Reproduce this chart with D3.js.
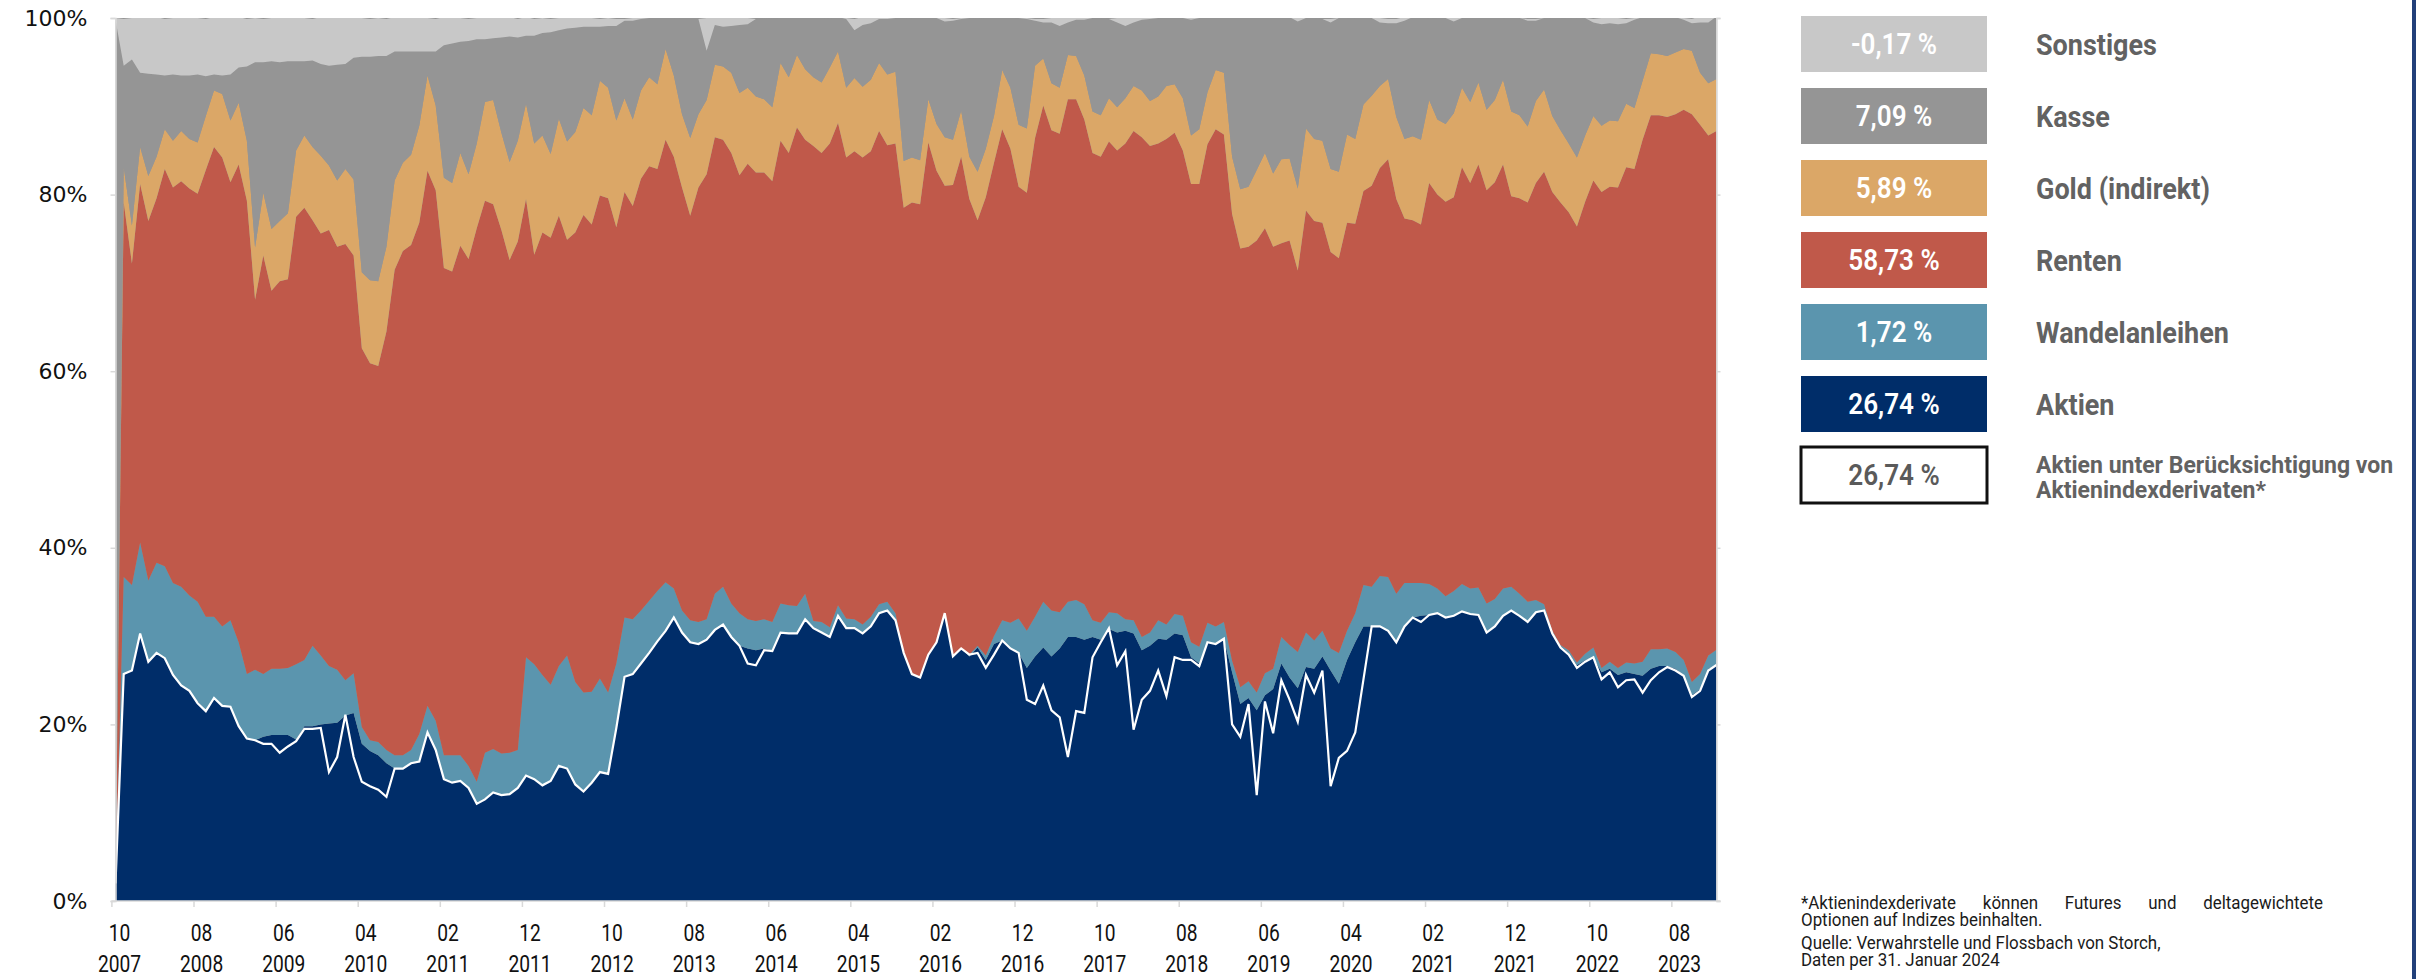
<!DOCTYPE html>
<html>
<head>
<meta charset="utf-8">
<script src="https://cdn.jsdelivr.net/npm/d3@7"></script>
<style>
  body { margin: 0; background: #fff; }
  svg { display: block; }
  text { font-family: Roboto, "Noto Sans", sans-serif; }
</style>
</head>
<body>
<svg id="chart" width="2419" height="979"></svg>
<script>
// monthly shares in %, Oct 2007 .. Jan 2024
const aktien = [
  2.0,25.7,26.1,30.3,27.1,28.1,27.5,25.6,24.4,23.8,
  22.6,21.6,23.0,22.1,22.0,19.8,18.4,18.2,18.6,18.8,
  18.8,18.8,18.3,19.8,19.8,20.0,20.1,20.2,21.0,21.3,
  17.8,17.0,16.5,15.6,15.0,15.0,15.6,15.8,19.1,17.1,
  13.8,13.4,13.6,12.8,11.0,11.5,12.3,12.0,12.1,12.8,
  14.2,13.8,13.1,13.6,15.3,15.0,13.2,12.4,13.4,14.6,
  14.4,19.6,25.4,25.7,26.9,28.1,29.4,30.6,32.1,30.4,
  29.3,29.1,29.6,30.7,31.3,29.9,28.9,28.6,28.4,28.6,
  28.4,30.4,30.3,30.3,31.9,30.9,30.4,29.9,32.3,30.9,
  30.9,30.3,31.1,32.6,32.9,31.8,28.1,25.7,25.3,27.9,
  29.3,32.6,27.7,28.6,27.7,28.7,27.3,29.1,29.5,28.6,
  28.1,26.4,27.7,28.7,27.7,28.6,29.9,29.9,29.6,29.9,
  29.6,30.8,30.4,30.6,30.3,28.4,28.9,29.7,29.6,30.3,
  30.1,27.6,26.9,29.3,29.1,29.7,25.9,22.3,23.0,21.6,
  23.3,24.0,26.9,25.3,24.1,26.5,26.3,27.7,26.1,24.6,
  27.3,29.3,31.1,31.1,31.1,30.6,29.3,31.1,32.1,32.3,
  32.4,32.6,32.1,32.3,32.8,32.5,32.4,30.4,31.1,32.3,
  32.9,32.3,31.6,32.7,32.9,30.4,28.9,28.1,26.7,27.3,
  27.6,25.9,26.3,25.6,25.9,25.7,25.5,26.3,26.6,26.6,
  26.3,25.6,23.3,24.0,26.3,26.74
];
const wandelanleihen = [
  0,11.0,9.7,10.3,9.2,10.2,10.4,10.4,11.2,10.8,
  11.3,10.6,9.2,9.0,9.8,9.5,7.3,8.0,7.1,7.5,
  7.5,7.6,8.5,7.5,9.1,7.8,6.5,6.0,4.0,4.5,
  1.9,1.2,1.5,1.5,1.5,1.5,1.5,3.1,3.0,3.3,
  2.7,3.1,2.9,2.5,2.5,5.3,4.9,4.7,4.7,4.3,
  13.4,13.0,12.5,10.9,11.3,12.8,11.6,11.2,10.3,10.6,
  9.2,7.3,6.7,6.2,6.0,5.9,5.7,5.5,3.3,2.5,
  2.5,2.5,2.3,4.1,4.3,3.8,3.7,3.3,3.3,3.3,
  3.2,3.3,3.2,3.1,2.9,0.8,1.2,1.1,1.2,1.1,
  1.0,1.0,1.1,1.0,1.0,0.8,0,0,0,0,
  0,0,0,0,0.2,0.2,0.5,0.9,2.3,2.9,
  3.9,4.2,4.5,5.2,5.2,4.1,4.0,4.2,4.0,1.9,
  1.9,1.9,2.2,1.3,1.5,1.5,1.5,2.1,1.7,2.2,
  2.2,1.7,1.9,2.2,2.0,1.9,1.3,1.9,1.9,2.0,
  2.5,2.3,3.0,3.7,4.1,3.9,3.2,2.9,2.5,3.5,
  3.3,3.3,4.7,4.5,5.7,6.1,5.5,4.9,3.9,3.7,
  3.5,2.8,2.4,2.8,3.1,2.9,3.1,3.3,3.1,3.1,
  2.7,2.5,2.3,1.4,0.7,0.2,0.1,0.3,0.3,0.7,
  1.1,0.5,0.8,0.8,1.1,1.2,1.6,2.2,1.9,2.0,
  1.9,1.7,1.5,1.7,1.5,1.72
];
const renten = [
  0,42.4,36.4,40.6,40.7,41.3,45.0,44.8,45.9,46.1,
  46.2,50.6,53.2,53.1,49.6,54.1,53.6,41.9,47.4,42.8,
  43.9,44.0,50.7,51.2,48.2,47.8,49.4,47.9,49.4,47.3,
  42.9,42.7,42.6,47.4,55.0,57.1,57.2,57.9,60.6,60.1,
  55.2,54.8,57.7,57.4,62.7,62.5,61.7,59.3,55.8,57.6,
  51.9,46.4,50.1,50.6,51.0,47.1,50.9,54.1,52.9,54.7,
  56.0,49.4,48.2,46.8,48.9,49.2,47.8,50.1,48.9,47.9,
  45.8,49.2,50.4,51.7,50.6,51.0,49.6,51.6,50.8,50.6,
  49.9,52.4,51.2,54.2,51.4,53.8,53.1,54.8,54.6,52.2,
  53.0,52.9,52.7,53.6,51.7,53.2,50.4,53.4,53.6,58.0,
  53.4,48.4,53.4,55.7,51.6,48.2,51.9,53.6,55.6,53.7,
  48.9,49.6,54.2,56.2,54.4,54.2,56.9,56.7,54.9,52.9,
  52.8,53.3,52.4,53.9,55.4,56.6,55.1,54.0,55.0,54.5,
  52.7,51.9,52.4,54.2,56.3,55.2,50.6,49.7,49.2,51.2,
  50.4,47.8,44.6,45.8,43.2,47.8,47.5,46.2,44.9,44.7,
  46.2,44.1,44.6,45.4,46.2,47.3,44.7,41.3,41.1,40.6,
  45.4,44.6,44.7,44.6,47.2,45.9,47.9,46.8,47.2,48.0,
  44.2,44.8,45.2,47.2,49.0,49.7,50.1,49.6,49.4,51.2,
  52.9,53.9,53.8,54.4,56.1,56.0,59.1,60.5,60.5,60.2,
  60.9,62.3,64.3,62.2,58.9,58.73
];
const gold = [
  0,4.0,4.3,4.2,5.1,4.7,4.5,5.3,5.7,5.6,
  5.8,6.1,6.4,7.2,7.0,7.0,6.8,5.9,7.1,7.0,
  6.8,7.5,7.5,8.2,8.3,8.8,7.3,7.5,8.5,8.6,
  8.6,9.4,9.6,9.6,10.1,10.0,10.2,11.0,10.8,9.6,
  10.2,10.0,10.5,9.6,9.6,11.2,11.8,11.0,11.1,11.4,
  10.8,12.6,11.0,9.5,11.0,11.1,11.4,12.1,12.4,13.0,
  12.5,12.1,10.6,9.8,10.0,10.1,9.6,10.3,9.2,8.3,
  8.8,8.3,8.4,8.2,8.3,9.1,9.3,8.6,8.6,8.3,
  8.4,8.8,8.6,8.2,8.0,7.8,8.0,8.6,8.1,7.9,
  8.3,8.0,8.1,7.7,8.0,8.1,5.3,5.1,5.0,4.9,
  5.3,5.5,5.1,5.2,4.8,5.5,5.5,5.3,6.7,6.9,
  7.0,7.3,8.2,5.3,5.3,5.2,5.0,4.9,5.0,4.7,
  4.7,4.9,4.9,5.1,5.1,5.3,5.1,5.3,6.0,5.5,
  5.9,5.5,6.2,5.9,6.7,7.0,6.5,6.7,6.8,8.0,
  8.5,8.3,9.5,9.3,9.3,9.3,9.3,9.3,9.4,9.8,
  10.0,9.6,9.8,10.2,9.3,9.1,9.3,9.0,9.5,9.6,
  9.4,8.5,8.8,9.5,9.0,9.2,9.3,9.1,9.3,9.6,
  9.6,9.4,8.6,9.3,9.3,8.6,8.2,7.8,7.8,7.5,
  7.3,7.5,7.5,7.5,7.2,6.9,6.7,7.0,6.9,6.9,
  7.0,6.9,7.2,5.9,5.9,5.89
];
const kasse = [
  97.8,11.5,18.8,8.4,11.6,9.3,6.1,7.5,6.3,7.2,
  7.7,4.5,1.8,2.1,5.2,4.0,8.4,21.0,14.8,19.0,
  18.0,17.2,10.1,8.4,9.8,10.4,11.3,13.1,11.9,13.8,
  24.4,25.3,25.5,21.6,14.6,12.6,11.7,8.4,2.7,6.1,
  15.0,15.8,12.6,15.1,11.8,7.1,7.0,10.8,14.2,11.7,
  7.7,12.2,11.6,13.8,10.0,12.8,11.8,9.2,10.0,6.1,
  7.0,10.7,8.8,11.2,8.1,6.7,7.5,3.5,6.5,10.8,
  13.5,10.8,5.6,4.5,4.5,5.3,7.7,7.2,8.8,9.2,
  10.0,5.1,6.7,4.2,5.9,6.7,7.3,5.5,3.9,7.8,
  5.4,7.0,6.4,5.0,6.3,6.1,16.2,15.7,16.2,9.2,
  12.0,13.1,13.5,10.4,15.7,17.3,14.8,11.2,6.0,8.0,
  12.0,12.4,5.1,4.1,6.9,7.0,3.7,4.1,6.3,10.6,
  11.0,9.0,9.6,8.2,7.2,8.0,9.3,8.8,7.7,7.5,
  9.1,13.1,12.6,8.5,6.0,6.2,15.7,19.5,19.2,17.2,
  15.3,17.7,16.0,16.0,18.9,12.5,13.7,13.8,16.6,17.4,
  13.2,13.6,9.8,8.8,7.2,6.3,10.6,13.4,13.5,13.8,
  9.2,11.5,12.0,10.4,7.9,9.5,7.3,10.4,9.3,7.0,
  10.5,11.0,12.0,9.1,8.1,11.0,12.6,14.2,15.7,13.3,
  10.6,11.5,11.0,11.0,9.1,10.0,7.2,4.0,4.2,4.3,
  4.0,3.3,3.1,5.7,6.9,7.09
];
const sonstiges = [
  0.2,5.3,4.7,6.2,6.3,6.5,6.4,6.4,6.5,6.5,
  6.4,6.5,6.5,6.5,6.5,5.7,5.4,5.0,4.9,4.9,
  5.0,5.0,4.9,4.9,4.7,5.3,5.4,5.4,5.3,4.5,
  4.4,4.3,4.3,4.2,3.9,3.9,3.8,3.8,3.8,3.7,
  3.2,2.9,2.7,2.5,2.4,2.4,2.3,2.3,2.2,2.1,
  2.1,1.9,1.7,1.5,1.4,1.2,1.1,1.0,1.0,0.9,
  0.9,0.8,0.2,0.3,0.1,0,0,0.1,0,0,
  0,0,3.7,0.9,1.0,0.9,0.9,0.7,0,0,
  0,0,0,0,0,0,0,0,0,0.1,
  1.3,0.9,0.7,0.2,0.1,0,0,0,0,0,
  0,0.4,0.2,0.1,0,0,0,0,0,0,
  0,0.1,0.2,0.4,0.5,0.9,0.5,0.2,0.2,0,
  0,0,0.5,0.9,0.5,0.2,0.1,0,0,0.1,
  0.1,0.2,0.1,0,0,0,0,0,0,0,
  0,0,0,0,0.4,0,0,0,0.4,0,
  0,0,0,0,0.5,0.5,0.5,0.4,0,0,
  0,0,0,0.4,0,0,0,0,0,0,
  0,0,0.2,0.2,0,0,0,0,0,0,
  0.4,0.7,0.7,0.7,0.5,0.2,0,0,0,0,
  0,0.2,0.5,0.7,0.5,-0.17
];
// Aktien unter Berücksichtigung von Aktienindexderivaten (white line)
const aktienDerivate = [
  2.0,25.7,26.1,30.3,27.1,28.1,27.5,25.6,24.4,23.8,
  22.4,21.5,23.0,22.1,22.0,19.8,18.4,18.2,17.8,17.8,
  16.8,17.5,18.1,19.5,19.5,19.6,14.6,16.3,21.1,16.3,
  13.5,13.0,12.6,11.8,15.0,15.0,15.6,15.8,19.1,17.1,
  13.8,13.4,13.6,12.8,11.0,11.5,12.3,12.0,12.1,12.8,
  14.2,13.8,13.1,13.6,15.3,15.0,13.2,12.4,13.4,14.6,
  14.4,19.6,25.4,25.7,26.9,28.1,29.4,30.6,32.1,30.4,
  29.3,29.1,29.6,30.7,31.3,29.9,28.9,26.9,26.7,28.4,
  28.3,30.4,30.3,30.3,31.9,30.9,30.4,29.9,32.3,30.9,
  30.9,30.3,31.1,32.6,32.9,31.8,28.1,25.7,25.3,27.9,
  29.3,32.6,27.7,28.6,27.9,28.1,26.4,27.9,29.5,28.6,
  28.1,22.8,22.3,24.4,21.6,20.8,16.3,21.5,21.3,27.6,
  29.3,30.9,26.7,28.3,19.4,22.8,23.8,26.1,23.2,27.6,
  27.3,27.3,26.6,29.3,29.1,29.7,20.0,18.6,22.3,12.0,
  22.6,19.0,25.0,22.8,20.3,25.6,23.6,26.1,13.0,16.2,
  17.0,19.1,25.1,31.1,31.1,30.6,29.3,31.1,32.1,31.6,
  32.4,32.6,32.1,32.3,32.8,32.5,32.4,30.4,31.1,32.3,
  32.9,32.3,31.6,32.7,32.9,30.3,28.7,27.9,26.4,27.1,
  27.6,25.1,25.9,24.2,25.0,25.1,23.6,25.0,25.9,26.5,
  26.1,25.5,23.1,23.8,26.1,26.74
];

const months = d3.timeMonth.range(new Date(2007, 9, 1), new Date(2024, 1, 1));
const tickMonths = ["10","08","06","04","02","12","10","08","06","04","02","12","10","08","06","04","02","12","10","08"];
const tickYears  = ["2007","2008","2009","2010","2011","2011","2012","2013","2014","2015","2016","2016","2017","2018","2019","2020","2021","2021","2022","2023"];
const yTicks = [0, 20, 40, 60, 80, 100];
const footnote = "*Aktienindexderivate können Futures und deltagewichtete";
const footnoteRest = ["Optionen auf Indizes beinhalten.", "Quelle: Verwahrstelle und Flossbach von Storch,", "Daten per 31. Januar 2024"];

// bottom to top
const series = [
  { key: "aktien",    name: "Aktien",          color: "#002d69", text: "#fff", values: aktien },
  { key: "wandel",    name: "Wandelanleihen",  color: "#5b95ae", text: "#fff", values: wandelanleihen },
  { key: "renten",    name: "Renten",          color: "#c0594a", text: "#fff", values: renten },
  { key: "gold",      name: "Gold (indirekt)", color: "#dba767", text: "#fff", values: gold },
  { key: "kasse",     name: "Kasse",           color: "#959595", text: "#fff", values: kasse },
  { key: "sonstiges", name: "Sonstiges",       color: "#c8c8c8", text: "#fff", values: sonstiges }
];

const svg = d3.select("#chart");
const n = months.length;
const x = d3.scaleLinear().domain([0, n - 1]).range([115.5, 1716.5]);
const y = d3.scaleLinear().domain([0, 100]).range([901, 18]);

// text squeezed horizontally (the original uses a condensed face)
function squeezed(parent, px, py, str, k) {
  return parent.append("g")
    .attr("transform", `translate(${px},${py}) scale(${k},1)`)
    .append("text").text(str);
}

const table = months.map((m, i) => {
  const row = { date: m };
  series.forEach(s => row[s.key] = s.values[i]);
  return row;
});
const stacked = d3.stack().keys(series.map(s => s.key))(table);

svg.append("defs").append("clipPath").attr("id", "plot")
  .append("rect").attr("x", x(0)).attr("y", y(100))
  .attr("width", x(n - 1) - x(0)).attr("height", y(0) - y(100));

const plot = svg.append("g").attr("clip-path", "url(#plot)");
plot.append("rect").attr("x", x(0)).attr("y", y(100))
  .attr("width", x(n - 1) - x(0)).attr("height", y(0) - y(100))
  .attr("fill", "#959595");

const area = d3.area()
  .x((d, i) => x(i))
  .y0(d => y(d[0]))
  .y1(d => y(d[1]));

plot.selectAll("path.layer")
  .data(stacked)
  .join("path")
  .attr("class", "layer")
  .attr("fill", (d, i) => series[i].color)
  .attr("d", area);

plot.append("path")
  .datum(aktienDerivate)
  .attr("fill", "none")
  .attr("stroke", "#fff")
  .attr("stroke-width", 2.2)
  .attr("d", d3.line().x((d, i) => x(i)).y(d => y(d)));

// axes
const axisColor = "#d9d9d9";
const yAxis = svg.append("g")
  .attr("transform", `translate(${x(0)},0)`)
  .call(d3.axisLeft(y).tickValues(yTicks).tickFormat(d => d + "%").tickSize(5).tickPadding(23));
yAxis.selectAll("text")
  .style("font-family", "'DejaVu Sans', sans-serif")
  .attr("font-size", 22).attr("fill", "#111");

const yRight = svg.append("g")
  .attr("transform", `translate(${x(n - 1)},0)`)
  .call(d3.axisRight(y).tickValues(yTicks).tickFormat("").tickSize(4));

const xTickPos = tickMonths.map((_, k) => 10 * k - 0.5);
const xAxis = svg.append("g")
  .attr("transform", `translate(0,${y(0)})`)
  .call(d3.axisBottom(x).tickValues(xTickPos).tickFormat("").tickSize(6));
xAxis.select(".domain").attr("d", `M${x(-0.5)},0H${x(n - 1) + 4}`);

[yAxis, yRight, xAxis].forEach(g => {
  g.select(".domain").attr("stroke", axisColor).attr("stroke-width", 1.5);
  g.selectAll(".tick line").attr("stroke", axisColor).attr("stroke-width", 1.5);
});

const xLabels = svg.append("g")
  .attr("font-size", 24).attr("fill", "#111").attr("text-anchor", "middle");
tickMonths.forEach((m, k) => {
  const cx = x(10 * k) + 4;
  squeezed(xLabels, cx, 941, m, 0.8);
  squeezed(xLabels, cx, 972, tickYears[k], 0.8);
});

// legend
const deLocale = d3.formatLocale({ decimal: ",", thousands: ".", grouping: [3], currency: ["", " €"], minus: "-" });
const fmt = deLocale.format(".2f");
const legendItems = series.slice().reverse().map(s => ({
  name: s.name, color: s.color, text: s.text, value: s.values[n - 1]
}));
legendItems.push({ name: null, color: "#fff", text: "#5a5a5a", value: aktienDerivate[n - 1], outline: true });

const legend = svg.append("g");
const boxX = 1801, boxW = 186, boxH = 56, step = 72, top0 = 16;
legendItems.forEach((it, i) => {
  const by = top0 + i * step - (it.outline ? 1 : 0);
  const g = legend.append("g");
  g.append("rect")
    .attr("x", boxX).attr("y", by).attr("width", boxW).attr("height", boxH)
    .attr("fill", it.color)
    .attr("stroke", it.outline ? "#111" : "none")
    .attr("stroke-width", it.outline ? 3 : 0);
  squeezed(g, boxX + boxW / 2, by + boxH / 2 + 10, fmt(it.value) + " %", 0.9)
    .attr("text-anchor", "middle")
    .attr("font-size", 29).attr("font-weight", 600)
    .attr("fill", it.text);
  if (it.name) {
    squeezed(g, 2036, by + boxH / 2 + 11, it.name, 0.9)
      .attr("font-size", 30).attr("font-weight", "bold").attr("fill", "#626262");
  } else {
    const l1 = squeezed(g, 2036, 473, "Aktien unter Berücksichtigung von", 1)
      .attr("font-size", 23).attr("font-weight", "bold").attr("fill", "#626262");
    const w = l1.node().getComputedTextLength();
    const k = Math.min(1, 366 / w);
    l1.node().parentNode.setAttribute("transform", `translate(2036,473) scale(${k},1)`);
    squeezed(g, 2036, 498, "Aktienindexderivaten*", k)
      .attr("font-size", 23).attr("font-weight", "bold").attr("fill", "#626262");
  }
});

// footnote, first line justified to the block width
const noteK = 0.94;
const note = svg.append("g")
  .attr("transform", `translate(1801,0) scale(${noteK},1)`)
  .attr("font-size", 18).attr("fill", "#1a1a1a");
const words = footnote.split(" ");
const wordNodes = words.map(wd => note.append("text").attr("y", 909).text(wd));
const widths = wordNodes.map(t => t.node().getComputedTextLength());
const full = 522 / noteK;
const gap = (full - d3.sum(widths)) / (words.length - 1);
let cx = 0;
wordNodes.forEach((t, i) => { t.attr("x", cx); cx += widths[i] + gap; });
[926, 949, 966].forEach((ly, i) => note.append("text").attr("x", 0).attr("y", ly).text(footnoteRest[i]));

// frame line on the right edge
svg.append("rect").attr("x", 2412).attr("y", 0).attr("width", 4).attr("height", 979).attr("fill", "#22407a");
</script>
</body>
</html>
